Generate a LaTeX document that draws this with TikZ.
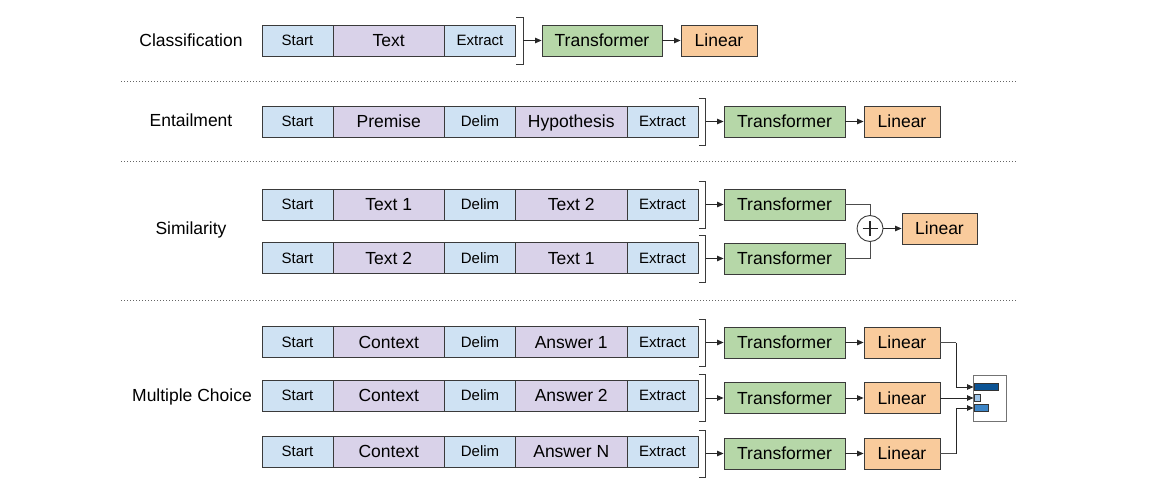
\documentclass[tikz,border=0pt]{standalone}
\usepackage{fontspec}
\setmainfont{Liberation Sans}
\usetikzlibrary{arrows.meta,calc}
\definecolor{cblue}{HTML}{CFE2F3}
\definecolor{cpurple}{HTML}{D9D2E9}
\definecolor{cgreen}{HTML}{B6D7A8}
\definecolor{corange}{HTML}{F9CB9C}
\definecolor{boxline}{HTML}{3A3A3A}
\definecolor{barDark}{HTML}{0B5394}
\definecolor{barLight}{HTML}{9FC5E8}
\definecolor{barMid}{HTML}{3D85C6}
\newcommand\ftbig{\fontsize{17.5pt}{20pt}\selectfont}
\newcommand\ftsmall{\fontsize{15pt}{18pt}\selectfont}
\newcommand\mybracket[3]{%
  \draw[brk] ($(#1.east |- #2.center)+(0.3,-23.5)$) -- ++(7,0) -- ++(0,47) -- ++(-7,0);
  \coordinate (#3) at ($(#1.east |- #2.center)+(7.3,0)$);
  \draw[arr] (#3) -- (#2.west);
}
\begin{document}
\begin{tikzpicture}[x=1pt,y=-1pt,
  box/.style={draw=boxline, line width=0.9pt, inner sep=0pt, minimum height=31pt,
    text depth=0pt, anchor=center},
  tok/.style={box, fill=cblue, font=\ftsmall, text height=10.74pt, minimum width=71pt},
  seg/.style={box, fill=cpurple, font=\ftbig, text height=12.53pt, minimum width=111.5pt},
  trans/.style={box, fill=cgreen, font=\ftbig, text height=12.53pt, minimum width=121pt},
  lin/.style={box, fill=corange, font=\ftbig, text height=12.53pt, minimum width=76pt},
  lab/.style={font=\ftbig, inner sep=0pt, text height=12.53pt, text depth=0pt},
  arr/.style={-{Triangle[length=6.5pt,width=5.5pt]}, line width=0.9pt, draw=black!85},
  conn/.style={line width=0.9pt, draw=black!70},
  brk/.style={line width=0.9pt, draw=boxline},
  sep/.style={draw=black!60, line width=0.9pt, dash pattern=on 1pt off 2pt},
  bar/.style={draw=black!80, line width=0.6pt, inner sep=0pt, minimum height=6.5pt, anchor=west}
]
\useasboundingbox (0,0) rectangle (1158,500);

% separators
\draw[sep] (121,81) -- (1017,81);
\draw[sep] (121,161) -- (1017,161);
\draw[sep] (121,300) -- (1017,300);

% labels
\node[lab] (labC) at (191,40.5) {Classification};
\node[lab] (labE) at (191,120.5) {Entailment};
\node[lab] (labS) at (191,228.5) {Similarity};
\node[lab] (labM) at (192,395.5) {Multiple Choice};

% ---------- Classification
\node[tok] (c1) at (297.5,40.5) {Start};
\node[seg] (c2) at (388.75,40.5) {Text};
\node[tok] (c3) at (480,40.5) {Extract};
\node[trans, minimum width=120pt] (ct) at (602,40.5) {Transformer};
\node[lin] (cl) at (719,40.5) {Linear};
\mybracket{c3}{ct}{cb}
\draw[arr] (ct.east) -- (cl.west);

% ---------- Entailment
\node[tok] (e1) at (297.5,121.5) {Start};
\node[seg] (e2) at (388.75,121.5) {Premise};
\node[tok] (e3) at (480,121.5) {Delim};
\node[seg] (e4) at (571.25,121.5) {Hypothesis};
\node[tok] (e5) at (662.5,121.5) {Extract};
\node[trans] (et) at (784.5,121.5) {Transformer};
\node[lin] (el) at (902,121.5) {Linear};
\mybracket{e5}{et}{eb}
\draw[arr] (et.east) -- (el.west);

% ---------- Similarity
\node[tok] (sa1) at (297.5,204.5) {Start};
\node[seg] (sa2) at (388.75,204.5) {Text 1};
\node[tok] (sa3) at (480,204.5) {Delim};
\node[seg] (sa4) at (571.25,204.5) {Text 2};
\node[tok] (sa5) at (662.5,204.5) {Extract};
\node[trans] (sat) at (784.5,204.5) {Transformer};
\mybracket{sa5}{sat}{sab}

\node[tok] (sb1) at (297.5,258) {Start};
\node[seg] (sb2) at (388.75,258) {Text 2};
\node[tok] (sb3) at (480,258) {Delim};
\node[seg] (sb4) at (571.25,258) {Text 1};
\node[tok] (sb5) at (662.5,258) {Extract};
\node[trans] (sbt) at (784.5,258.5) {Transformer};
\mybracket{sb5}{sbt}{sbb}

\node[circle, draw=boxline, line width=0.9pt, fill=white, minimum size=26pt, inner sep=0pt] (plus) at (870,228.5) {};
\draw[line width=1.4pt, black!85] ($(plus.center)+(-7.5,0)$) -- ($(plus.center)+(7.5,0)$);
\draw[line width=1.4pt, black!85] ($(plus.center)+(0,-7.5)$) -- ($(plus.center)+(0,7.5)$);
\node[lin, minimum width=75pt] (sl) at (939.5,228.5) {Linear};
\draw[conn] (sat.east) -| (plus.north);
\draw[conn] (sbt.east) -| (plus.south);
\draw[arr] (plus.east) -- (sl.west);

% ---------- Multiple choice
\node[tok] (ma1) at (297.5,342) {Start};
\node[seg] (ma2) at (388.75,342) {Context};
\node[tok] (ma3) at (480,342) {Delim};
\node[seg] (ma4) at (571.25,342) {Answer 1};
\node[tok] (ma5) at (662.5,342) {Extract};
\node[trans] (mat) at (784.5,342.5) {Transformer};
\node[lin] (mal) at (902,342.5) {Linear};
\mybracket{ma5}{mat}{mab}
\draw[arr] (mat.east) -- (mal.west);

\node[tok] (mb1) at (297.5,395.5) {Start};
\node[seg] (mb2) at (388.75,395.5) {Context};
\node[tok] (mb3) at (480,395.5) {Delim};
\node[seg] (mb4) at (571.25,395.5) {Answer 2};
\node[tok] (mb5) at (662.5,395.5) {Extract};
\node[trans] (mbt) at (784.5,398) {Transformer};
\node[lin] (mbl) at (902,398) {Linear};
\mybracket{mb5}{mbt}{mbb}
\draw[arr] (mbt.east) -- (mbl.west);

\node[tok] (mc1) at (297.5,451.5) {Start};
\node[seg] (mc2) at (388.75,451.5) {Context};
\node[tok] (mc3) at (480,451.5) {Delim};
\node[seg] (mc4) at (571.25,451.5) {Answer N};
\node[tok] (mc5) at (662.5,451.5) {Extract};
\node[trans] (mct) at (784.5,453.5) {Transformer};
\node[lin] (mcl) at (902,453.5) {Linear};
\mybracket{mc5}{mct}{mcb}
\draw[arr] (mct.east) -- (mcl.west);

% softmax box
\node[draw=black!55, line width=0.9pt, fill=white, minimum width=33pt, minimum height=46pt, inner sep=0pt] (smx) at (989.5,398) {};
\node[bar, fill=barDark, minimum width=24pt] (bar1) at (973.5,387) {};
\node[bar, fill=barLight, minimum width=6pt] (bar2) at (973.5,398) {};
\node[bar, fill=barMid, minimum width=14pt] (bar3) at (973.5,408) {};
\draw[conn] (mal.east) -- ++(16,0) coordinate (ja);
\draw[arr] (ja) |- (bar1.west);
\draw[arr] (mbl.east) -- (bar2.west);
\draw[conn] (mcl.east) -- ++(16,0) coordinate (jc);
\draw[arr] (jc) |- (bar3.west);
\end{tikzpicture}
\end{document}
